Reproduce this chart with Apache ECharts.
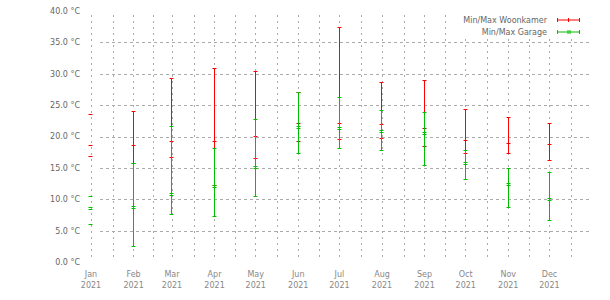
<!DOCTYPE html>
<html><head><meta charset="utf-8">
<script src="https://cdn.jsdelivr.net/npm/echarts@6/dist/echarts.min.js"></script>
<style>html,body{margin:0;padding:0;background:#fff}#c{width:610px;height:300px}</style>
</head><body><div id="c"></div>
<script>
// ---- data ----
const months = ['Jan','Feb','Mar','Apr','May','Jun','Jul','Aug','Sep','Oct','Nov','Dec'];
const year = 2021;
const yTicks = [0, 5, 10, 15, 20, 25, 30, 35, 40];
const seriesNames = ['Min/Max Woonkamer', 'Min/Max Garage'];
const woonMin  = [16.8, 15.7, 16.75, 12.2, 16.5, 19.3, 19.6, 19.8, 18.5, 17.4, 17.4, 16.3];
const woonMean = [18.7, 18.6, 19.3, 19.3, 20.0, 22.1, 22.1, 22.0, 21.4, 19.5, 19.0, 18.8];
const woonMax  = [23.6, 24.0, 29.3, 30.9, 30.4, 27.0, 37.5, 28.7, 29.0, 24.4, 23.1, 22.1];
const garMin   = [6.1, 2.6, 7.7, 7.4, 10.5, 17.4, 18.2, 17.9, 15.5, 13.2, 8.8, 6.7];
const garMean  = [8.6, 8.7, 10.75, 12.1, 15.2, 21.5, 21.4, 20.9, 20.5, 15.8, 12.4, 10.1];
const garMax   = [10.5, 15.8, 21.7, 18.2, 22.8, 27.0, 26.3, 24.2, 23.9, 17.9, 14.9, 14.4];

// ---- day positions (days since Jan 1) ----
const DAY = 864e5, t0 = Date.UTC(year, 0, 1);
const monthDay = months.map((m, i) => (Date.UTC(year, i, 1) - t0) / DAY);
const yearDays = (Date.UTC(year + 1, 0, 1) - t0) / DAY;
const midDay = months.map((m, i) => Math.round((monthDay[i] + (i < 11 ? monthDay[i + 1] : yearDays)) / 2));
const dayCats = Array.from({length: yearDays + 1}, (_, i) => i);
const gridDays = new Set(monthDay.concat(midDay));
const xMinData = 6.56;

const RED = '#ff0000', GREEN = '#00c000', GRID = '#ababab';
const FONT = 'DejaVu Sans';

function build(minA, meanA, maxA) {
  return months.map((m, i) => [monthDay[i], minA[i], meanA[i], maxA[i]]);
}
const crisp = (v) => Math.round(v - 0.5) + 0.5;
function errRender(color, doubleMean) {
  return function (params, api) {
    const x = api.value(0);
    const pMin = api.coord([x, api.value(1)]);
    const pMean = api.coord([x, api.value(2)]);
    const pMax = api.coord([x, api.value(3)]);
    const cs = params.coordSys;
    const hw = 2;
    const cx = crisp(pMax[0]);
    const st = {stroke: color, lineWidth: 1};
    const ch = [];
    if (pMax[0] >= cs.x) {
      ch.push({type: 'line', shape: {x1: cx, y1: crisp(pMax[1]), x2: cx, y2: crisp(pMin[1])}, style: st});
    }
    const tick = (p, dy) => {
      const y = crisp(p[1] + dy);
      ch.push({type: 'line', shape: {x1: cx - hw, y1: y, x2: cx + hw, y2: y}, style: st});
    };
    tick(pMax, 0); tick(pMin, 0);
    if (doubleMean) { tick(pMean, -1); tick(pMean, 1); } else { tick(pMean, 0); }
    return {type: 'group', children: ch};
  };
}

const legendText = {fontSize: 8, color: '#666', lineHeight: 10, fontFamily: FONT, padding: [0, 5, 0, 0]};

const chart = echarts.init(document.getElementById('c'), null, {renderer: 'svg'});
chart.setOption({
  animation: false,
  backgroundColor: '#fff',
  textStyle: {fontFamily: FONT},
  grid: [
    {left: 91, right: 18, top: 15, bottom: 43},
    {left: 100, right: 18, top: 11.3, bottom: 37.5}
  ],
  xAxis: [
    {
      gridIndex: 0, type: 'category', data: dayCats, boundaryGap: false,
      axisLine: {show: false}, axisTick: {show: false},
      axisLabel: {
        interval: (i) => monthDay.includes(i),
        formatter: (v, i) => months[monthDay.indexOf(Number(v))] + '\n' + year,
        fontSize: 8, lineHeight: 11, color: '#888', margin: 12, fontFamily: FONT
      },
      splitLine: {show: true, interval: (i) => gridDays.has(i), lineStyle: {color: GRID, type: [2, 4], width: 1}}
    },
    {
      gridIndex: 1, type: 'value', min: xMinData, max: yearDays, show: false,
      splitLine: {show: false}
    }
  ],
  yAxis: [
    {gridIndex: 0, type: 'value', min: 0, max: 1, show: false, splitLine: {show: false}},
    {
      gridIndex: 1, type: 'value', min: yTicks[0], max: yTicks[yTicks.length - 1], interval: yTicks[1] - yTicks[0],
      axisLine: {show: false}, axisTick: {show: false},
      axisLabel: {formatter: (v) => v.toFixed(1) + ' °C', fontSize: 8, color: '#666', margin: 20, fontFamily: FONT,
        showMinLabel: true, showMaxLabel: true},
      splitLine: {show: true, showMinLine: false, showMaxLine: false, lineStyle: {color: GRID, type: [3, 3], width: 1}}
    }
  ],
  legend: [
    {data: [seriesNames[0]], right: 30, top: 15, padding: 0, z: 10, align: 'right',
      itemWidth: 23, itemHeight: 4,
      icon: 'path://M0,0h1v4h-1zM0,1.5h23v1h-23zM11,0h1v4h-1zM22,0h1v4h-1z',
      textStyle: legendText},
    {data: [seriesNames[1]], right: 30, top: 27, padding: 0, z: 10, align: 'right',
      itemWidth: 23, itemHeight: 4,
      icon: 'path://M0,0h1v4h-1zM0,1.5h23v1h-23zM10.5,0h1v4h-1zM12.5,0h1v4h-1zM22,0h1v4h-1z',
      textStyle: legendText}
  ],
  graphic: [
    {type: 'rect', left: 455, top: 14, shape: {width: 137, height: 24}, style: {fill: '#fff'}, z: 5}
  ],
  series: [
    {
      name: seriesNames[0], type: 'custom', xAxisIndex: 1, yAxisIndex: 1, z: 2,
      itemStyle: {color: RED},
      renderItem: errRender(RED, false),
      encode: {x: 0, y: [1, 2, 3]},
      data: build(woonMin, woonMean, woonMax)
    },
    {
      name: seriesNames[1], type: 'custom', xAxisIndex: 1, yAxisIndex: 1, z: 3,
      itemStyle: {color: GREEN},
      renderItem: errRender(GREEN, true),
      encode: {x: 0, y: [1, 2, 3]},
      data: build(garMin, garMean, garMax)
    }
  ]
});
</script>
</body></html>
